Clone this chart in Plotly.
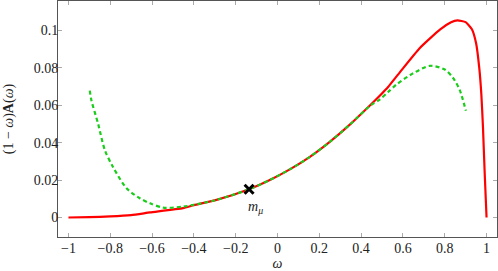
import plotly.graph_objects as go

# Data
red_x = [-1.0, -0.9, -0.8, -0.7, -0.61, -0.452, -0.4, -0.292, -0.136, -0.037, 0.059, 0.155, 0.25,
         0.346, 0.442, 0.489, 0.529, 0.585, 0.681, 0.777, 0.83, 0.861, 0.9, 0.93, 0.95, 0.965,
         0.975, 0.983, 0.991, 1.0]
red_y = [0.0, 0.0002, 0.0006, 0.0013, 0.0027, 0.0050, 0.0066, 0.0094, 0.0151, 0.0200, 0.0257,
         0.0324, 0.0404, 0.0496, 0.0598, 0.0650, 0.0697, 0.0775, 0.0905, 0.1003, 0.1043, 0.1053,
         0.1043, 0.1005, 0.0930, 0.0800, 0.0660, 0.0480, 0.0240, 0.0]

green_x = [-0.898, -0.89, -0.858, -0.826, -0.787, -0.722, -0.659, -0.61, -0.547, -0.452, -0.4,
           -0.292, -0.136, -0.037, 0.059, 0.155, 0.25, 0.346, 0.442, 0.489, 0.529, 0.569, 0.649,
           0.729, 0.80, 0.84, 0.872, 0.901]
green_y = [0.0678, 0.0625, 0.0500, 0.0360, 0.0270, 0.0156, 0.0103, 0.0076, 0.0053, 0.0058,
           0.0068, 0.0094, 0.0151, 0.0200, 0.0257, 0.0324, 0.0404, 0.0496, 0.0596, 0.0630,
           0.0670, 0.0710, 0.0770, 0.0810, 0.0790, 0.0745, 0.0680, 0.0570]

marker_x = [-0.136]
marker_y = [0.0151]
marker_label = "<i>m<sub>μ</sub></i>"

x_ticks = [-1, -0.8, -0.6, -0.4, -0.2, 0, 0.2, 0.4, 0.6, 0.8, 1]
x_tick_text = ["−1", "−0.8", "−0.6", "−0.4", "−0.2", "0", "0.2", "0.4", "0.6", "0.8", "1"]
y_ticks = [0, 0.02, 0.04, 0.06, 0.08, 0.1]
y_tick_text = ["0", "0.02", "0.04", "0.06", "0.08", "0.1"]

FONT = "Liberation Serif"

fig = go.Figure()
fig.add_trace(go.Scatter(x=red_x, y=red_y, mode="lines",
                         line=dict(color="#ff0000", width=2.2, shape="spline", smoothing=0.5),
                         showlegend=False))
fig.add_trace(go.Scatter(x=green_x, y=green_y, mode="lines",
                         line=dict(color="#1ccc1c", width=2.2, dash="4px,3px", shape="spline", smoothing=0.8),
                         showlegend=False))
fig.add_trace(go.Scatter(x=marker_x, y=marker_y, mode="markers",
                         marker=dict(symbol="x-thin", size=9, line=dict(color="black", width=3)),
                         showlegend=False))
fig.add_annotation(x=marker_x[0], y=marker_y[0], text=marker_label, showarrow=False,
                   xanchor="left", yanchor="top", xshift=-3, yshift=-8,
                   font=dict(family=FONT, size=14, color="#222"))

axis_common = dict(showgrid=False, zeroline=False, showline=True, linecolor="#555", linewidth=1,
                   mirror="allticks", ticks="inside", ticklen=4, tickcolor="#aaa", tickwidth=1,
                   automargin=False,
                   tickfont=dict(family=FONT, size=14, color="#222"))

fig.update_layout(
    width=498, height=271,
    margin=dict(l=58, r=1, t=1, b=34),
    plot_bgcolor="white", paper_bgcolor="white",
    font=dict(family=FONT),
    xaxis=dict(range=[-1.05, 1.05], tickvals=x_ticks, ticktext=x_tick_text, ticklabelstandoff=-2,
               title=dict(text="<i>ω</i>", font=dict(family=FONT, size=14, color="#222"), standoff=2),
               **axis_common),
    yaxis=dict(range=[-0.0104, 0.1156], tickvals=y_ticks, ticktext=y_tick_text, ticklabelstandoff=-4,
               title=dict(text="(1 − <i>ω</i>)<b>A</b>(<i>ω</i>)", font=dict(family=FONT, size=14, color="#222"), standoff=16),
               **axis_common),
)

fig.write_html("out.html", config={"displayModeBar": False},
               post_script="document.body.style.margin='0';document.body.style.overflow='hidden';")
